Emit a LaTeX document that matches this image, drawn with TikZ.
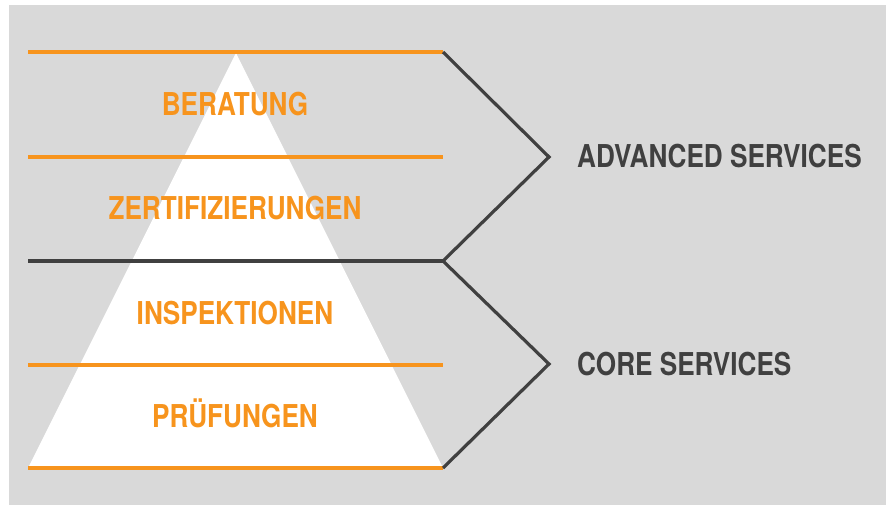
\documentclass[tikz,border=0pt]{standalone}
\usepackage{fontspec}
\newfontfamily\heroscond{TeX Gyre Heros}[FakeStretch=0.83]
\definecolor{pyrorange}{HTML}{F7941D}
\definecolor{pyrdark}{HTML}{404040}
\definecolor{pyrbg}{HTML}{D9D9D9}

\begin{document}
\begin{tikzpicture}[
    x=1pt, y=-1pt,
    layerline/.style={line width=3.2pt, color=pyrorange},
    darkline/.style={line width=3.2pt, color=pyrdark},
    bracketline/.style={line width=3.2pt, color=pyrdark, line join=miter},
    layerlabel/.style={anchor=base, inner sep=0pt, text=pyrorange, font=\heroscond\bfseries\fontsize{31.5}{36}\selectfont},
    servicelabel/.style={anchor=base west, inner sep=0pt, text=pyrdark, font=\heroscond\bfseries\fontsize{31.5}{36}\selectfont},
]
\useasboundingbox (0,0) rectangle (889,506);
\fill[pyrbg] (9,5) rectangle (886,505);

% layer ends
\coordinate (L0) at (28,52);  \coordinate (R0) at (443,52);
\coordinate (L1) at (28,157); \coordinate (R1) at (443,157);
\coordinate (L2) at (28,261); \coordinate (R2) at (443,261);
\coordinate (L3) at (28,365); \coordinate (R3) at (443,365);
\coordinate (L4) at (28,468); \coordinate (R4) at (443,468);

% pyramid
\coordinate (apex) at (236,53);
\fill[white] (apex) -- (L4) -- (R4) -- cycle;

% layer lines
\draw[layerline] (L0) -- (R0);
\draw[layerline] (L1) -- (R1);
\draw[darkline] (L2) -- (R2);
\draw[layerline] (L3) -- (R3);
\draw[layerline] (L4) -- (R4);

% brackets
\coordinate (advtip) at (549,157);
\coordinate (coretip) at (549,364);
\draw[bracketline] (R0) -- (advtip) -- (R2);
\draw[bracketline] (R2) -- (coretip) -- (R4);

% layer labels
\node[layerlabel] (beratung) at (235,115) {BERATUNG};
\node[layerlabel] (zert) at (235,219) {ZERTIFIZIERUNGEN};
\node[layerlabel] (insp) at (235,324) {INSPEKTIONEN};
\node[layerlabel] (pruef) at (235,427) {PRÜFUNGEN};

% service labels
\node[servicelabel] (advanced) at (577,167) {ADVANCED SERVICES};
\node[servicelabel] (core) at (577,375) {CORE SERVICES};
\end{tikzpicture}
\end{document}
